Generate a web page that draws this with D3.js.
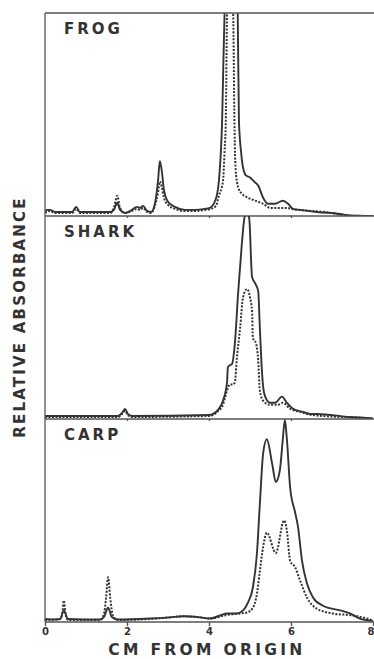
<!DOCTYPE html>
<html>
<head>
<meta charset="utf-8">
<script src="https://cdn.jsdelivr.net/npm/d3@7"></script>
<style>
  html, body { margin: 0; padding: 0; background: #fff; }
  svg { display: block; }
  text { font-family: "DejaVu Sans", sans-serif; font-weight: bold; fill: #333; }
</style>
</head>
<body>
<svg id="chart" width="374" height="659"></svg>
<script>
// Densitometer traces of hemoglobin electrophoresis, three species.
// Distance migrated (cm from origin) against relative absorbance (0-100 = full panel height).
const panelNames = ["FROG", "SHARK", "CARP"];

const frogSolidCm  = [0, 0.05, 0.12, 0.24, 0.66, 0.76, 0.85, 1.59, 1.68, 1.76, 1.83, 1.95, 2.12, 2.24, 2.32, 2.39, 2.49, 2.59, 2.68, 2.76, 2.80, 2.85, 2.90, 3.00, 3.17, 3.41, 3.66, 3.90, 4.02, 4.10, 4.15, 4.20, 4.24, 4.29, 4.32, 4.35, 4.38, 4.44, 4.54, 4.63, 4.70, 4.73, 4.78, 4.82, 4.90, 5.00, 5.10, 5.20, 5.32, 5.44, 5.61, 5.80, 5.93, 6.05, 6.22, 6.63, 7.20, 7.44, 8.0];
const frogSolidAbs = [2, 3, 3, 2, 2, 4.5, 2, 2, 3, 6.5, 3, 1.5, 3, 4.5, 4, 5, 2.5, 2, 6, 18, 27, 22, 13, 7, 4.5, 3, 3, 3.5, 4, 5.5, 7.5, 11, 17, 32, 47, 75, 100, 125, 135, 125, 100, 47, 32, 25, 20, 19, 17, 15, 9, 6, 6, 7.5, 6, 3.5, 3, 2, 1, 0.3, 0];

const frogDashedCm  = [0, 0.12, 0.24, 0.66, 0.76, 0.85, 1.59, 1.68, 1.76, 1.83, 1.95, 2.12, 2.24, 2.32, 2.39, 2.49, 2.59, 2.68, 2.76, 2.80, 2.85, 2.90, 3.00, 3.17, 3.41, 3.66, 3.90, 4.05, 4.17, 4.24, 4.34, 4.38, 4.41, 4.44, 4.515, 4.59, 4.62, 4.64, 4.68, 4.76, 4.95, 5.07, 5.32, 5.49, 5.90, 6.02, 6.5, 7.0, 7.27, 8.0];
const frogDashedAbs = [1.5, 2.5, 1.5, 1.5, 3.5, 1.5, 1.5, 4, 10, 4, 1.5, 2.5, 3.5, 3, 4, 2, 1.5, 5, 12, 17, 14, 9, 5.5, 3.5, 2.5, 2.5, 3, 3.5, 5, 10, 17, 32, 47, 100, 135, 100, 47, 27, 17, 12, 9, 8, 6, 4, 4, 3.5, 2.5, 1.5, 0.3, 0];

const sharkSolidCm  = [0, 1.34, 1.78, 1.88, 1.95, 2.02, 2.12, 4.02, 4.10, 4.22, 4.34, 4.44, 4.46, 4.51, 4.56, 4.63, 4.71, 4.80, 4.85, 4.91, 4.98, 5.05, 5.12, 5.20, 5.24, 5.29, 5.32, 5.37, 5.49, 5.61, 5.78, 5.90, 6.05, 6.29, 6.46, 6.63, 7.44, 7.85, 8.0];
const sharkSolidAbs = [1.5, 1.5, 1.5, 3, 5, 2.5, 1.5, 2, 2.5, 4.5, 9, 18, 25.5, 26.5, 27, 37, 62, 86, 97, 102, 99, 70, 67, 63, 45, 24, 16, 11, 8, 8, 11, 8, 5, 3.5, 2.5, 2.5, 1, 0.5, 0.3];

const sharkDashedCm  = [0, 1.78, 1.88, 1.95, 2.02, 2.12, 4.02, 4.20, 4.34, 4.44, 4.51, 4.59, 4.63, 4.68, 4.76, 4.83, 4.93, 5.00, 5.05, 5.07, 5.15, 5.20, 5.24, 5.32, 5.49, 5.68, 5.80, 5.98, 6.22, 6.5, 7.44, 8.0];
const sharkDashedAbs = [1, 1, 2.5, 4, 2, 1, 1.5, 3.5, 7, 14, 17, 17, 18, 30, 45, 60, 64, 60, 53, 40, 37, 29, 14, 9, 7, 7, 8, 5, 3.5, 2, 0.8, 0.3];

const carpSolidCm  = [0, 0.24, 0.37, 0.46, 0.56, 1.34, 1.44, 1.54, 1.63, 1.78, 2.56, 3.05, 3.37, 3.78, 4.02, 4.27, 4.44, 4.68, 4.83, 4.95, 5.07, 5.17, 5.24, 5.32, 5.41, 5.54, 5.63, 5.73, 5.80, 5.85, 5.90, 5.98, 6.10, 6.17, 6.27, 6.39, 6.54, 6.78, 7.20, 7.44, 7.68, 7.93, 8.0];
const carpSolidAbs = [1.5, 1.2, 1.5, 5.7, 1.5, 1.2, 2.5, 7, 2.5, 1.2, 1.7, 2.3, 2.8, 2.3, 1.7, 3.2, 4.2, 4.2, 5.7, 9.6, 17, 34, 58, 83, 90, 78, 69, 75, 90, 99.5, 90, 66, 54, 47, 30, 19, 12, 8, 5.7, 4.2, 1.7, 0.7, 0.5];

const carpDashedCm  = [0, 0.37, 0.42, 0.46, 0.50, 0.56, 1.34, 1.44, 1.49, 1.54, 1.59, 1.66, 1.78, 2.56, 3.05, 3.37, 3.78, 4.02, 4.44, 4.76, 4.93, 5.07, 5.17, 5.24, 5.32, 5.41, 5.63, 5.83, 5.90, 5.98, 6.10, 6.22, 6.39, 6.63, 7.02, 7.51, 7.85, 8.0];
const carpDashedAbs = [1, 1.5, 4, 10.6, 4, 1, 1, 4, 12, 22, 12, 3, 1, 1.5, 2.3, 2.8, 2.3, 1.7, 3.5, 4.2, 4.7, 7, 14, 25, 37, 44, 34, 50, 45, 30, 27, 20.5, 12, 6.6, 4.2, 3.2, 1.7, 0.7];

const xTicks = [0, 2, 4, 6, 8];
const xTickLabels = ["0", "2", "4", "6", "8"];
const yAxisTitle = "RELATIVE ABSORBANCE";
const xAxisTitle = "CM FROM ORIGIN";

const series = [
  { solid: [frogSolidCm, frogSolidAbs],   dashed: [frogDashedCm, frogDashedAbs] },
  { solid: [sharkSolidCm, sharkSolidAbs], dashed: [sharkDashedCm, sharkDashedAbs] },
  { solid: [carpSolidCm, carpSolidAbs],   dashed: [carpDashedCm, carpDashedAbs] }
];

const svg = d3.select("#chart");
const left = 45, right = 373, plotTop = 13, panelH = 203;
const ink = "#333";

const x = d3.scaleLinear().domain([0, 8]).range([left, right]);

const zip = (xs, ys) => xs.map((v, i) => [v, ys[i]]);

panelNames.forEach((name, i) => {
  const top = plotTop + i * panelH;
  const bottom = top + panelH;
  const y = d3.scaleLinear().domain([0, 100]).range([bottom, top]);

  const clipId = "clip" + i;
  svg.append("clipPath").attr("id", clipId)
    .append("rect").attr("x", left).attr("y", top).attr("width", 374 - left).attr("height", panelH);

  const line = d3.line()
    .x(d => x(d[0]))
    .y(d => y(d[1]))
    .curve(d3.curveMonotoneX);

  const g = svg.append("g").attr("clip-path", `url(#${clipId})`);

  g.append("path")
    .datum(zip(series[i].dashed[0], series[i].dashed[1]))
    .attr("d", line)
    .attr("fill", "none")
    .attr("stroke", ink)
    .attr("stroke-width", 2)
    .attr("stroke-dasharray", "2 1.5");

  g.append("path")
    .datum(zip(series[i].solid[0], series[i].solid[1]))
    .attr("d", line)
    .attr("fill", "none")
    .attr("stroke", ink)
    .attr("stroke-width", 1.9)
    .attr("stroke-linejoin", "round");

  // baseline axis of each panel
  const isLast = i === panelNames.length - 1;
  const axis = d3.axisBottom(x)
    .tickValues(isLast ? xTicks : xTicks.slice(1, 4))
    .tickSize(isLast ? 4 : 2)
    .tickSizeOuter(0)
    .tickPadding(2)
    .tickFormat((d, k) => isLast ? xTickLabels[k] : "");

  const ax = svg.append("g").attr("transform", `translate(0,${bottom})`).call(axis);
  ax.select(".domain").remove();
  ax.selectAll(".tick line").attr("stroke", "#555").attr("stroke-width", 1.4);
  ax.selectAll(".tick text")
    .style("font-family", '"DejaVu Sans", sans-serif')
    .style("font-weight", "bold")
    .style("font-size", "10px")
    .attr("fill", ink);
  // keep the last label inside the page edge
  ax.selectAll(".tick text").filter(d => d === 8).attr("text-anchor", "end").attr("dx", "1");

  svg.append("line")
    .attr("x1", left).attr("x2", 374)
    .attr("y1", bottom).attr("y2", bottom)
    .attr("stroke", "#555").attr("stroke-width", 1.3);

  svg.append("text")
    .attr("x", left + 19)
    .attr("y", top + 20.5)
    .attr("font-size", 15)
    .attr("letter-spacing", 3)
    .text(name);
});

// frame: top border and left axis
svg.append("line")
  .attr("x1", left).attr("x2", 374)
  .attr("y1", plotTop).attr("y2", plotTop)
  .attr("stroke", "#555").attr("stroke-width", 1.3);
svg.append("line")
  .attr("x1", left).attr("x2", left)
  .attr("y1", plotTop).attr("y2", plotTop + 3 * panelH)
  .attr("stroke", "#555").attr("stroke-width", 1.3);

// axis titles
svg.append("text")
  .attr("transform", "translate(25,317) rotate(-90)")
  .attr("text-anchor", "middle")
  .attr("font-size", 15)
  .attr("letter-spacing", 2.2)
  .text(yAxisTitle);

svg.append("text")
  .attr("x", 207)
  .attr("y", 655)
  .attr("text-anchor", "middle")
  .attr("font-size", 15.5)
  .attr("letter-spacing", 3.3)
  .text(xAxisTitle);
</script>
</body>
</html>
